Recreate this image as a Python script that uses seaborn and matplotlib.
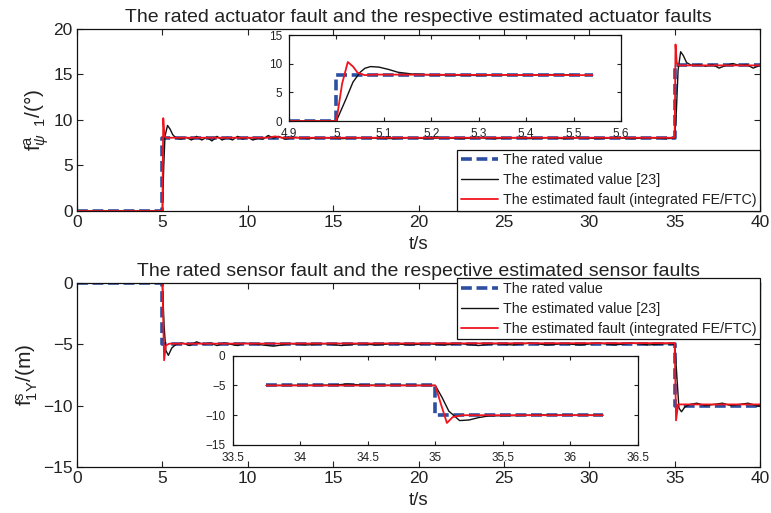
"""
Rated vs estimated actuator / sensor faults, MATLAB-style figure with zoom insets.
"""

import matplotlib
matplotlib.use("Agg")

import matplotlib.pyplot as plt
import seaborn as sns

# --- data ---
# actuator fault (upper panel)
ACT_RATED_T = [0, 5, 5, 35, 35, 40]
ACT_RATED_V = [0, 0, 8, 8, 16, 16]

ACT_EST23_T = [0, 5.0, 5.08, 5.15, 5.3, 5.45, 5.6, 5.8,
               6.1, 6.4, 6.7, 7.0, 7.3, 7.6, 7.9, 8.2, 8.5, 8.8,
               9.1, 9.4, 9.7, 10.0, 10.3, 10.6, 10.9, 11.2, 11.5, 11.8,
               12.2, 12.8, 13.5, 14.5, 15.5, 16.5, 17.5, 18.5, 19.5, 20.5,
               21.5, 22.5, 23.5, 24.5, 25.5, 26.5, 27.5, 28.5, 29.5, 30.5,
               31.5, 32.5, 33.5, 34.5, 35.0, 35.1, 35.2, 35.35, 35.5, 35.7,
               36.0, 36.4, 36.8, 37.2, 37.6, 38.0, 38.4, 38.8, 39.2, 39.6, 40.0]
ACT_EST23_V = [0, 0, 5.0, 8.2, 9.4, 9.0, 8.4, 8.0,
               7.9, 8.1, 7.8, 8.2, 7.8, 8.1, 7.7, 8.2, 7.8, 8.1,
               7.8, 8.2, 7.9, 8.1, 7.8, 8.0, 7.9, 8.3, 8.0, 8.2,
               7.9, 8.1, 7.95, 8.05, 7.95, 8.05, 8.0, 7.95, 8.05, 7.95,
               8.05, 7.95, 8.05, 7.95, 8.05, 7.95, 8.05, 7.95, 8.05, 7.95,
               8.05, 7.95, 8.05, 7.95, 8.0, 11.0, 15.5, 17.5, 17.1, 16.3,
               16.0, 16.1, 15.9, 16.1, 15.7, 16.0, 16.2, 16.0, 16.1, 15.7, 16.0]

ACT_FEFTC_T = [0, 5.0, 5.05, 5.12, 5.25, 11.2, 11.6, 12.0, 35.0, 35.05, 35.12, 35.25, 40]
ACT_FEFTC_V = [0, 0, 10.2, 8.2, 8.05, 8.05, 8.2, 8.05, 8.05, 18.3, 16.3, 16.0, 16.0]

# actuator zoom 4.9 .. 5.6 s
ACT_ZOOM_RATED_T = [4.9, 5.0, 5.0, 5.54]
ACT_ZOOM_RATED_V = [0, 0, 8, 8]
ACT_ZOOM_EST23_T = [4.9, 5.0, 5.02, 5.035, 5.05, 5.06, 5.072, 5.09, 5.11,
                    5.13, 5.16, 5.2, 5.25, 5.3, 5.35, 5.4, 5.45, 5.5]
ACT_ZOOM_EST23_V = [0, 0, 3.8, 6.8, 8.5, 9.2, 9.5, 9.4, 9.0,
                    8.5, 8.2, 8.05, 8.0, 7.95, 8.05, 8.0, 8.1, 8.05]
ACT_ZOOM_FEFTC_T = [4.9, 5.0, 5.012, 5.024, 5.035, 5.045, 5.06, 5.08, 5.54]
ACT_ZOOM_FEFTC_V = [0, 0, 6.5, 10.3, 9.5, 8.4, 8.0, 8.1, 8.0]

# sensor fault (lower panel)
SEN_RATED_T = [0, 5, 5, 35, 35, 40]
SEN_RATED_V = [0, 0, -5, -5, -10, -10]

SEN_EST23_T = [0, 5.0, 5.1, 5.2, 5.35, 5.55, 5.8, 6.2, 6.6, 7.0,
               7.4, 7.8, 8.2, 8.6, 9.0, 9.4, 9.8, 10.5, 11.5, 12.5,
               13.5, 14.5, 15.5, 16.5, 17.5, 18.5, 19.5, 20.5, 21.5, 22.5,
               23.5, 24.5, 25.5, 26.5, 27.5, 28.5, 29.5, 30.5, 31.5, 32.5,
               33.5, 34.5, 35.0, 35.1, 35.25, 35.4, 35.6, 35.9, 36.3, 36.8,
               37.3, 37.8, 38.3, 38.8, 39.3, 39.8, 40.0]
SEN_EST23_V = [0, 0, -3.5, -5.5, -5.9, -5.3, -5.0, -4.9, -5.1, -4.8,
               -5.0, -4.9, -5.1, -4.9, -5.0, -5.1, -4.9, -5.0, -5.15, -4.95,
               -5.05, -4.95, -5.1, -4.95, -5.05, -4.95, -5.05, -4.95, -5.05, -4.95,
               -5.1, -4.95, -5.05, -4.9, -5.05, -4.95, -5.05, -4.9, -5.05, -4.9,
               -5.05, -4.95, -5.0, -7.0, -10.2, -10.5, -10.1, -9.9, -9.8, -10.0,
               -9.9, -9.8, -10.0, -9.9, -9.8, -10.0, -10.0]

SEN_FEFTC_T = [0, 5.0, 5.1, 5.2, 5.4, 35.0, 35.08, 35.2, 40]
SEN_FEFTC_V = [0, 0, -6.3, -5.1, -4.95, -4.9, -11.2, -9.9, -9.9]

# sensor zoom 33.5 .. 36.5 s
SEN_ZOOM_RATED_T = [33.75, 35.0, 35.0, 36.24]
SEN_ZOOM_RATED_V = [-5, -5, -10, -10]
SEN_ZOOM_EST23_T = [33.75, 34.2, 34.3, 34.35, 34.4, 34.5, 35.0, 35.05, 35.1,
                    35.18, 35.25, 35.32, 35.4, 35.6, 35.8, 36.0, 36.24]
SEN_ZOOM_EST23_V = [-5, -4.95, -4.85, -4.75, -4.85, -4.95, -5.0, -7.0, -9.3,
                    -10.9, -10.8, -10.4, -10.1, -10.05, -9.95, -10.0, -10.0]
SEN_ZOOM_FEFTC_T = [33.75, 35.0, 35.04, 35.086, 35.13, 35.2, 36.24]
SEN_ZOOM_FEFTC_V = [-5, -5, -8.0, -11.3, -10.3, -10.0, -10.0]

LABELS = ["The rated value", "The estimated value [23]",
          "The estimated fault (integrated FE/FTC)"]

BLUE = "#2D4FA1"
BLACK = "#111111"
RED = "#F0141E"
TEXT = "#222222"


def _draw(ax, t, v, kind, label=None):
    if kind == "rated":
        kw = dict(color=BLUE, linewidth=2.6, linestyle=(0, (3.0, 1.3)))
    elif kind == "est23":
        kw = dict(color=BLACK, linewidth=1.0)
    else:
        kw = dict(color=RED, linewidth=1.3)
    sns.lineplot(x=t, y=v, ax=ax, estimator=None, sort=False, label=label,
                 legend=False, **kw)


def _matlab_axes(ax, xticks, yticks, size, length=4, pad=3):
    ax.set_xticks(xticks)
    ax.set_yticks(yticks)
    ax.tick_params(direction="in", top=True, right=True, length=length,
                   width=0.8, labelsize=size, colors=TEXT, pad=pad)
    for s in ax.spines.values():
        s.set_color("#111111")
        s.set_linewidth(0.9)
    ax.grid(False)
    ax.set_xlabel("")
    ax.set_ylabel("")


def _legend(ax, loc, anchor):
    leg = ax.legend(loc=loc, bbox_to_anchor=anchor, fontsize=10.3, frameon=True,
                    fancybox=False, handlelength=2.6, handletextpad=0.35,
                    labelspacing=0.42, borderpad=0.25, borderaxespad=0.0,
                    framealpha=1)
    leg.get_frame().set_edgecolor("#111111")
    leg.get_frame().set_linewidth(0.9)
    for txt in leg.get_texts():
        txt.set_color(TEXT)
    leg.set_zorder(20)
    return leg


sns.set_theme(style="ticks")
plt.rcParams["font.family"] = ["Liberation Sans", "DejaVu Sans"]
plt.rcParams["mathtext.fontset"] = "custom"
plt.rcParams["mathtext.rm"] = "Liberation Sans"
plt.rcParams["mathtext.it"] = "Liberation Sans:italic"

fig = plt.figure(figsize=(7.71, 5.13), dpi=100)
fig.patch.set_facecolor("white")

# ---------------- upper panel ----------------
ax1 = fig.add_axes([0.0999, 0.5887, 0.8859, 0.3548])
_draw(ax1, ACT_RATED_T, ACT_RATED_V, "rated", LABELS[0])
_draw(ax1, ACT_EST23_T, ACT_EST23_V, "est23", LABELS[1])
_draw(ax1, ACT_FEFTC_T, ACT_FEFTC_V, "feftc", LABELS[2])
ax1.set_xlim(0, 40)
ax1.set_ylim(0, 20)
_matlab_axes(ax1, range(0, 41, 5), range(0, 21, 5), 12.5)
ax1.set_title("The rated actuator fault and the respective estimated actuator faults",
              fontsize=14, color=TEXT, pad=5)
ax1.set_xlabel("t/s", fontsize=13.5, color=TEXT, labelpad=4)
ax1.set_ylabel(r"$\mathrm{f}^{\mathrm{a}}_{\psi\ \ 1}$/(°)", fontsize=15, color=TEXT, labelpad=2)
_legend(ax1, "lower right", (1.0, 0.0))

ins1 = fig.add_axes([0.3748, 0.7641, 0.4306, 0.1676])
ins1.set_zorder(10)
_draw(ins1, ACT_ZOOM_RATED_T, ACT_ZOOM_RATED_V, "rated")
_draw(ins1, ACT_ZOOM_EST23_T, ACT_ZOOM_EST23_V, "est23")
_draw(ins1, ACT_ZOOM_FEFTC_T, ACT_ZOOM_FEFTC_V, "feftc")
ins1.set_xlim(4.9, 5.6)
ins1.set_ylim(0, 15)
_matlab_axes(ins1, [4.9, 5.0, 5.1, 5.2, 5.3, 5.4, 5.5, 5.6], [0, 5, 10, 15], 8.5, 3, 5)
ins1.set_xticklabels(["4.9", "5", "5.1", "5.2", "5.3", "5.4", "5.5", "5.6"])

# ---------------- lower panel ----------------
ax2 = fig.add_axes([0.0999, 0.0897, 0.8859, 0.3587])
_draw(ax2, SEN_RATED_T, SEN_RATED_V, "rated", LABELS[0])
_draw(ax2, SEN_EST23_T, SEN_EST23_V, "est23", LABELS[1])
_draw(ax2, SEN_FEFTC_T, SEN_FEFTC_V, "feftc", LABELS[2])
ax2.set_xlim(0, 40)
ax2.set_ylim(-15, 0)
_matlab_axes(ax2, range(0, 41, 5), [-15, -10, -5, 0], 12.5)
ax2.set_title("The rated sensor fault and the respective estimated sensor faults",
              fontsize=14, color=TEXT, pad=5)
ax2.set_xlabel("t/s", fontsize=13.5, color=TEXT, labelpad=4)
ax2.set_ylabel(r"$\mathrm{f}^{\mathrm{s}}_{\mathrm{1Y}}$/(m)", fontsize=15, color=TEXT, labelpad=2)
_legend(ax2, "upper right", (1.0, 1.027))

ins2 = fig.add_axes([0.3016, 0.1326, 0.5259, 0.1740])
ins2.set_zorder(10)
_draw(ins2, SEN_ZOOM_RATED_T, SEN_ZOOM_RATED_V, "rated")
_draw(ins2, SEN_ZOOM_EST23_T, SEN_ZOOM_EST23_V, "est23")
_draw(ins2, SEN_ZOOM_FEFTC_T, SEN_ZOOM_FEFTC_V, "feftc")
ins2.set_xlim(33.5, 36.5)
ins2.set_ylim(-15, 0)
_matlab_axes(ins2, [33.5, 34, 34.5, 35, 35.5, 36, 36.5], [-15, -10, -5, 0], 8.5, 3, 5)
ins2.set_xticklabels(["33.5", "34", "34.5", "35", "35.5", "36", "36.5"])

fig.savefig("out.png", dpi=100, facecolor="white")
plt.close(fig)
